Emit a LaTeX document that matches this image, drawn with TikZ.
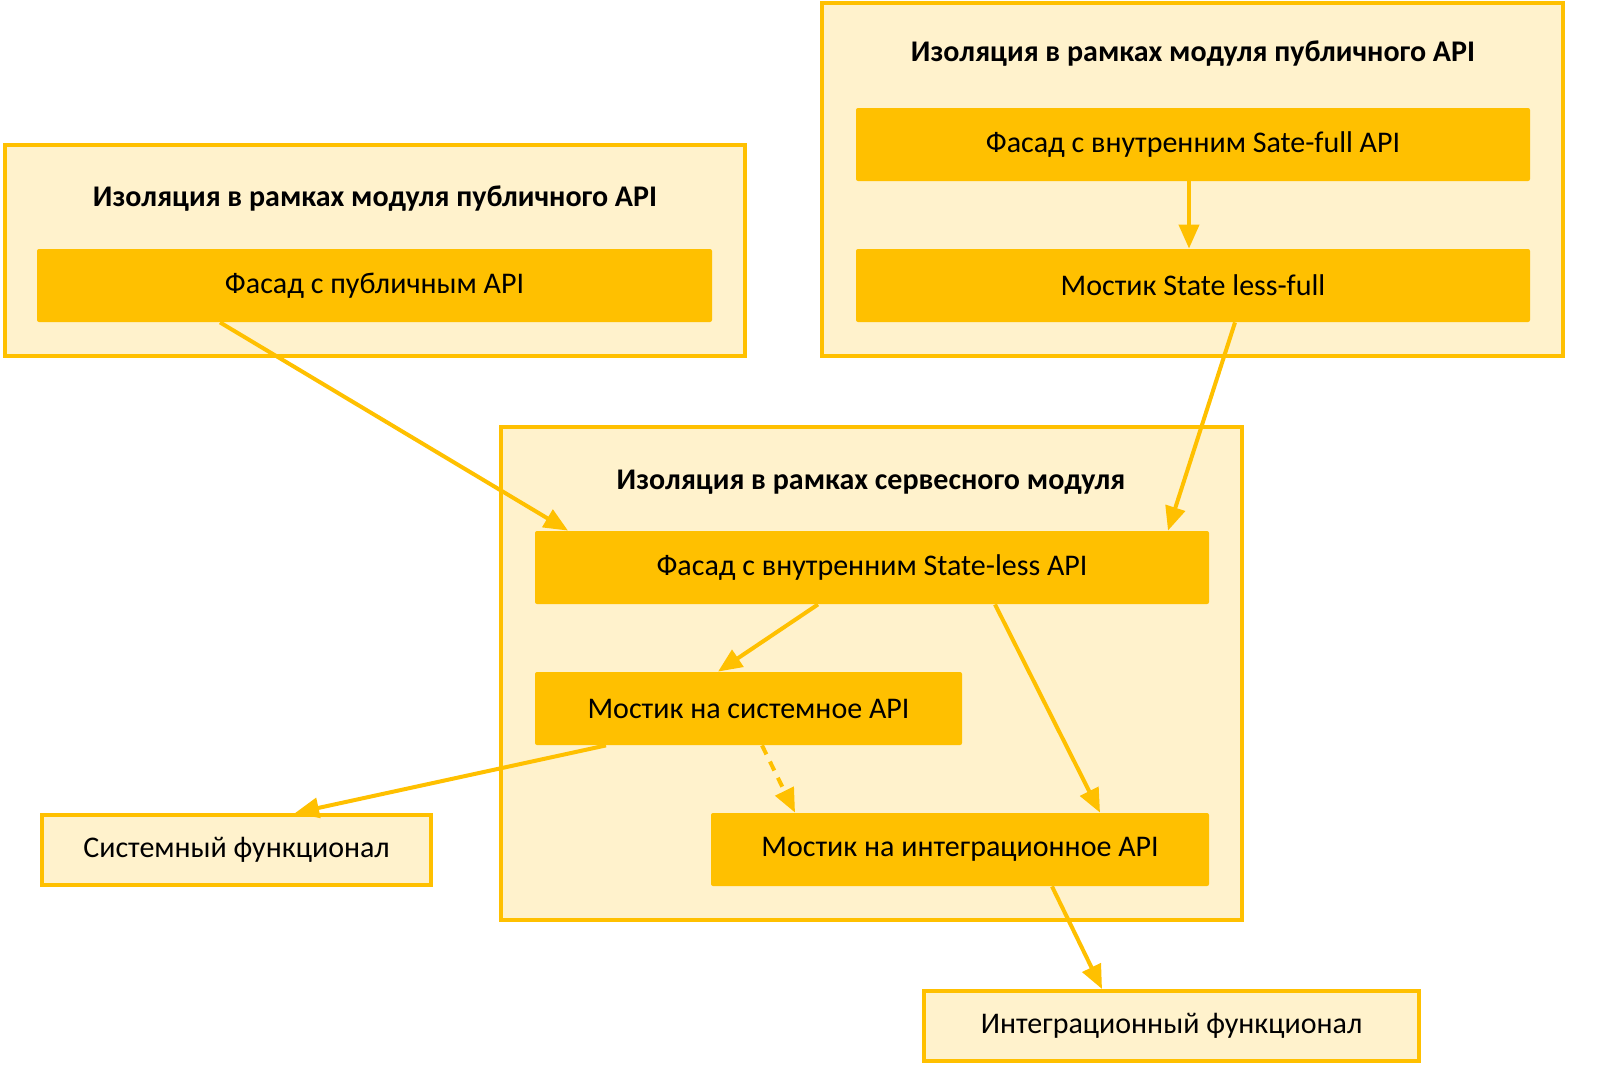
\documentclass[tikz,border=0pt]{standalone}
\usepackage{fontspec}
\setmainfont{Carlito}
\usetikzlibrary{arrows.meta}
\definecolor{gold}{HTML}{FFC000}
\definecolor{pale}{HTML}{FFF2CC}
\begin{document}
\begin{tikzpicture}[x=0.5pt,y=-0.5pt,
  grp/.style={draw=gold,fill=pale,line width=2pt,inner sep=0pt},
  box/.style={fill=gold,inner sep=0pt,font=\fontsize{15}{18}\selectfont,rounded corners=1pt},
  ext/.style={draw=gold,fill=pale,line width=2pt,inner sep=0pt,font=\fontsize{15}{18}\selectfont},
  ttl/.style={font=\bfseries\fontsize{15}{18}\selectfont},
  arr/.style={draw=gold,line width=2pt,-{Triangle[length=12pt,width=10pt]}}]
% groups
\node[grp,minimum width=370pt,minimum height=105.5pt] (g1) at (375,250.5) {};
\node[grp,minimum width=370.5pt,minimum height=176.5pt] (g2) at (1192.5,179.5) {};
\node[grp,minimum width=370.5pt,minimum height=246.5pt] (g3) at (871.5,673.5) {};
\node[ttl] (t1) at (375,199) {Изоляция в рамках модуля публичного API};
\node[ttl] (t2) at (1193,54) {Изоляция в рамках модуля публичного API};
\node[ttl] (t3) at (871,482) {Изоляция в рамках сервесного модуля};
% boxes
\node[box,minimum width=337.5pt,minimum height=36.5pt] (pf) at (374.5,285.5) {Фасад с публичным API};
\node[box,minimum width=337pt,minimum height=36.5pt] (n1) at (1193,144.5) {Фасад с внутренним Sate-full API};
\node[box,minimum width=337pt,minimum height=36.5pt] (n2) at (1193,285.5) {Мостик State less-full};
\node[box,minimum width=337pt,minimum height=36.5pt] (A) at (872,567.5) {Фасад с внутренним State-less API};
\node[box,minimum width=213.5pt,minimum height=36.5pt] (B) at (748.5,708.5) {Мостик на системное API};
\node[box,minimum width=249pt,minimum height=36.5pt] (C) at (960,849.5) {Мостик на интеграционное API};
\node[ext,minimum width=194.5pt,minimum height=35pt] (sys) at (236.5,850) {Системный функционал};
\node[ext,minimum width=247.5pt,minimum height=35pt] (int) at (1171.5,1026) {Интеграционный функционал};
% edges
\draw[arr] ([xshift=-77.25pt]pf.south) -- ([xshift=-152pt]A.north);
\draw[arr] ([xshift=21pt]n2.south) -- ([xshift=148pt]A.north);
\draw[arr] ([xshift=-2pt]n1.south) -- ([xshift=-2pt]n2.north);
\draw[arr] ([xshift=-27pt]A.south) -- ([xshift=-15.25pt]B.north);
\draw[arr] ([xshift=61.5pt]A.south) -- ([xshift=70pt]C.north);
\draw[arr,dashed,dash pattern=on 5pt off 4pt] ([xshift=6.75pt]B.south) -- ([xshift=-82.5pt]C.north);
\draw[arr] ([xshift=-71.25pt]B.south) -- ([xshift=29.25pt]sys.north);
\draw[arr] ([xshift=46pt]C.south) -- ([xshift=-34.75pt]int.north);
\pgfresetboundingbox
\path[use as bounding box] (0,0) rectangle (1600,1087);
\end{tikzpicture}
\end{document}
